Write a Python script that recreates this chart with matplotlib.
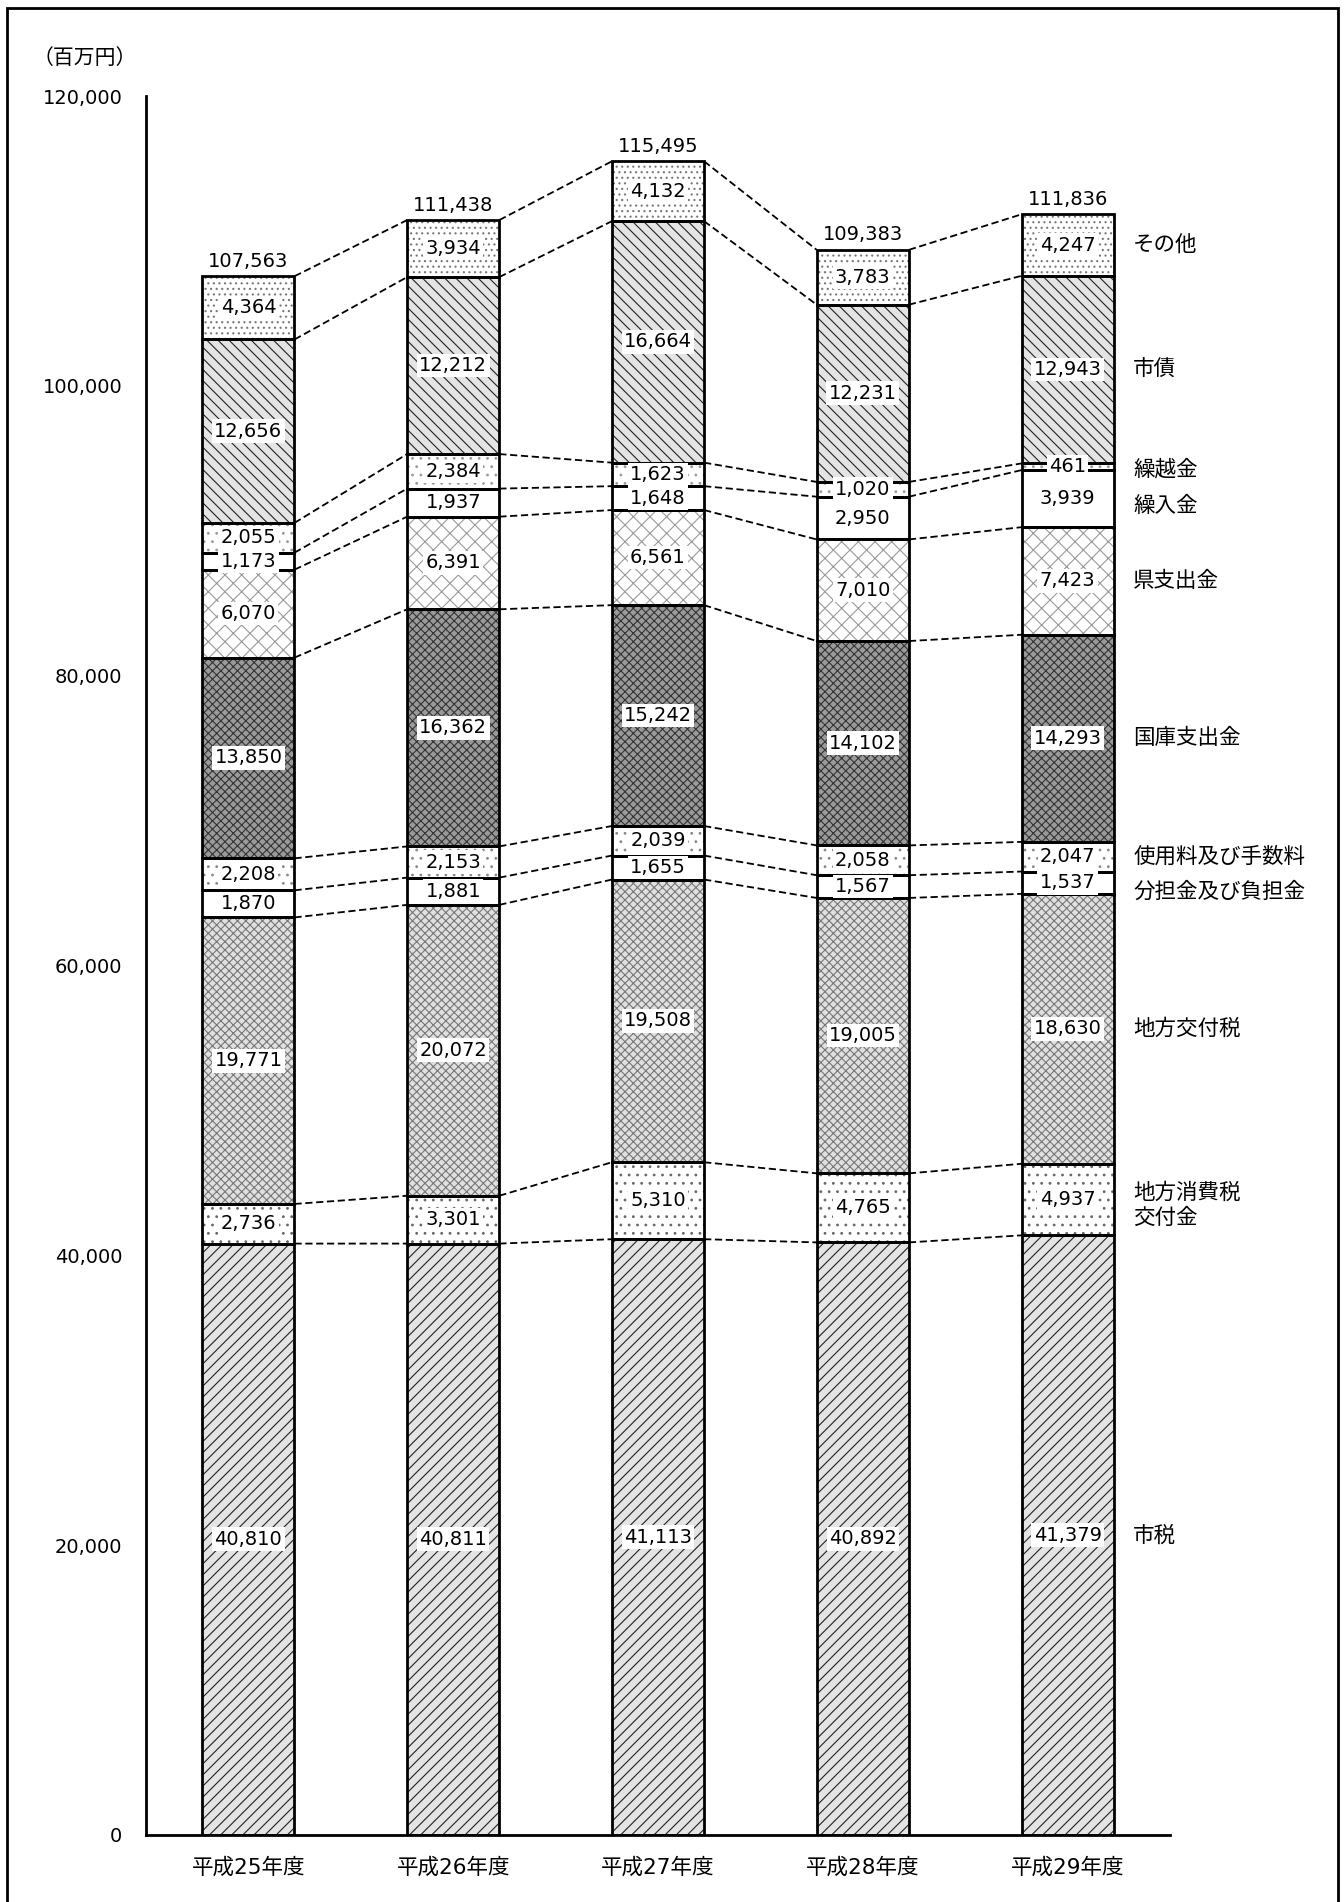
import numpy as np
import matplotlib
matplotlib.use("Agg")
import matplotlib.pyplot as plt
from matplotlib.patches import Rectangle

plt.rcParams['font.family'] = ['DejaVu Sans', 'Noto Sans CJK JP']
plt.rcParams['hatch.linewidth'] = 0.8

# 歳入の推移（百万円）
years = ['平成25年度', '平成26年度', '平成27年度', '平成28年度', '平成29年度']
items = ['市税', '地方消費税\n交付金', '地方交付税', '分担金及び負担金', '使用料及び手数料',
         '国庫支出金', '県支出金', '繰入金', '繰越金', '市債', 'その他']

shizei = [40810, 40811, 41113, 40892, 41379]
shohizei_kofu = [2736, 3301, 5310, 4765, 4937]
kofuzei = [19771, 20072, 19508, 19005, 18630]
futankin = [1870, 1881, 1655, 1567, 1537]
shiyoryo = [2208, 2153, 2039, 2058, 2047]
kokko = [13850, 16362, 15242, 14102, 14293]
ken = [6070, 6391, 6561, 7010, 7423]
kurire = [1173, 1937, 1648, 2950, 3939]
kurikoshi = [2055, 2384, 1623, 1020, 461]
shisai = [12656, 12212, 16664, 12231, 12943]
sonota = [4364, 3934, 4132, 3783, 4247]
totals = [107563, 111438, 115495, 109383, 111836]

series = [shizei, shohizei_kofu, kofuzei, futankin, shiyoryo,
          kokko, ken, kurire, kurikoshi, shisai, sonota]

# 塗り / ハッチ / ハッチ色
styles = [
    ('#e4e4e4', '///', '#222222'),
    ('white', '..', '#666666'),
    ('#e0e0e0', 'xxxx', '#777777'),
    ('white', '', 'black'),
    ('white', '..', '#888888'),
    ('#9a9a9a', 'xxxx', '#333333'),
    ('white', 'xx', '#9a9a9a'),
    ('white', '', 'black'),
    ('white', '..', '#999999'),
    ('#e4e4e4', '\\\\\\', '#222222'),
    ('white', '...', '#777777'),
]

# 右側ラベルの上下微調整
label_nudge = {'繰入金': -500, '分担金及び負担金': -600, '繰越金': -150,
               '地方消費税\n交付金': -400}

fig = plt.figure(figsize=(13.44, 19.02), dpi=100)
ax = fig.add_axes([146 / 1344, 1 - 1835 / 1902, 1024 / 1344, (1835 - 96) / 1902])

x = np.arange(len(years))
w = 0.45
bottom = np.zeros(len(years))
levels = []
for vals, (fc, hatch, hc), name in zip(series, styles, items):
    vals = np.array(vals, dtype=float)
    ax.bar(x, vals, w, bottom=bottom, color=fc, edgecolor=hc, hatch=hatch,
           linewidth=0, zorder=2)
    ax.bar(x, vals, w, bottom=bottom, fill=False, edgecolor='black',
           linewidth=2.0, zorder=3)
    for xi, v, b in zip(x, vals, bottom):
        ax.text(xi, b + v / 2, f'{int(v):,}', ha='center', va='center',
                fontsize=14, zorder=5,
                bbox=dict(boxstyle='square,pad=0.12', fc='white', ec='none'))
    ny = bottom[-1] + vals[-1] / 2 + label_nudge.get(name, 0)
    ax.text(4.32, ny, name, ha='left', va='center', fontsize=15.5,
            linespacing=1.3, clip_on=False)
    bottom = bottom + vals
    levels.append(bottom.copy())

# 年度間の破線
for lv in levels:
    for i in range(len(years) - 1):
        ax.plot([x[i] + w / 2, x[i + 1] - w / 2], [lv[i], lv[i + 1]],
                color='black', lw=1.3, dashes=(4, 2), zorder=1)

for xi, t in zip(x, totals):
    ax.annotate(f'{t:,}', (xi, t), xytext=(0, 4), textcoords='offset points',
                ha='center', va='bottom', fontsize=14)

ax.set_xlim(-0.5, 4.5)
ax.set_ylim(0, 120000)
ax.set_xticks(x)
ax.set_xticklabels(years, fontsize=15.5)
ax.set_yticks(np.arange(0, 120001, 20000))
ax.set_yticklabels([f'{v:,}' for v in range(0, 120001, 20000)], fontsize=14)
ax.tick_params(axis='y', length=0, pad=17)
ax.tick_params(axis='x', length=0, pad=16)
for s in ['top', 'right']:
    ax.spines[s].set_visible(False)
ax.spines['left'].set_linewidth(2.0)
ax.spines['bottom'].set_linewidth(2.0)

fig.text(85 / 1344, 1 - 58 / 1902, '（百万円）', ha='center', va='center', fontsize=15)

# 外枠
fig.patches.append(Rectangle((7 / 1344, -0.02), 1331 / 1344, 1.02 - 8 / 1902,
                             transform=fig.transFigure, fill=False,
                             edgecolor='black', linewidth=2.0))

fig.savefig('out.png', dpi=100)
